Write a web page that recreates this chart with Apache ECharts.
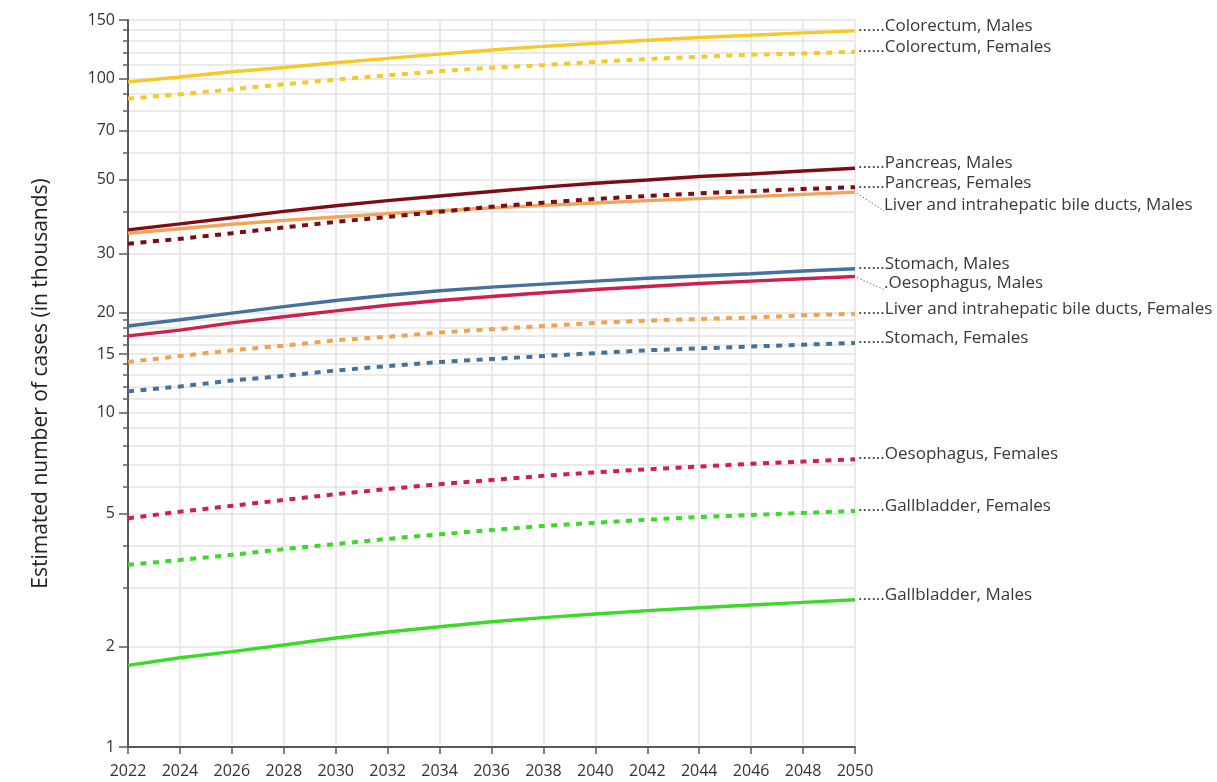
<!DOCTYPE html>
<html>
<head>
<meta charset="utf-8">
<script src="https://cdn.jsdelivr.net/npm/echarts@6/dist/echarts.min.js"></script>
<style>
html,body{margin:0;padding:0;background:#fff;}
#chart{width:1217px;height:782px;}
</style>
</head>
<body>
<div id="chart"></div>
<script>
// ---- data ----
const years = [2022, 2024, 2026, 2028, 2030, 2032, 2034, 2036, 2038, 2040, 2042, 2044, 2046, 2048, 2050];

const colorectumMales      = [97.9, 101.3, 105.0, 108.1, 111.7, 115.1, 118.6, 122.0, 125.1, 127.8, 130.4, 132.9, 135.0, 137.3, 139.2];
const colorectumFemales    = [87.2, 89.9, 93.0, 96.3, 99.4, 102.5, 105.4, 107.9, 109.9, 112.4, 114.6, 116.4, 118.1, 119.1, 120.5];
const pancreasMales        = [35.3, 36.8, 38.4, 40.1, 41.7, 43.2, 44.6, 46.0, 47.4, 48.7, 49.8, 51.0, 51.9, 53.0, 54.0];
const pancreasFemales      = [32.1, 33.2, 34.5, 35.9, 37.3, 38.6, 40.0, 41.4, 42.6, 43.7, 44.6, 45.4, 46.1, 46.8, 47.4];
const liverMales           = [34.5, 35.6, 36.7, 37.7, 38.6, 39.5, 40.3, 41.1, 41.8, 42.5, 43.2, 43.8, 44.4, 45.1, 45.8];
const stomachMales         = [18.2, 19.0, 19.9, 20.8, 21.7, 22.5, 23.2, 23.8, 24.3, 24.8, 25.3, 25.7, 26.1, 26.6, 27.0];
const oesophagusMales      = [17.0, 17.7, 18.6, 19.4, 20.2, 21.0, 21.7, 22.3, 22.9, 23.4, 23.9, 24.4, 24.8, 25.2, 25.6];
const liverFemales         = [14.2, 14.8, 15.4, 15.9, 16.5, 16.9, 17.4, 17.8, 18.2, 18.6, 18.9, 19.1, 19.3, 19.6, 19.8];
const stomachFemales       = [11.6, 12.0, 12.5, 12.9, 13.4, 13.8, 14.2, 14.5, 14.8, 15.1, 15.4, 15.6, 15.8, 16.0, 16.2];
const oesophagusFemales    = [4.84, 5.06, 5.27, 5.49, 5.71, 5.92, 6.12, 6.30, 6.48, 6.64, 6.78, 6.91, 7.04, 7.15, 7.27];
const gallbladderFemales   = [3.51, 3.63, 3.76, 3.91, 4.05, 4.20, 4.33, 4.46, 4.59, 4.69, 4.79, 4.88, 4.95, 5.02, 5.09];
const gallbladderMales     = [1.755, 1.85, 1.93, 2.02, 2.12, 2.21, 2.29, 2.37, 2.44, 2.50, 2.56, 2.61, 2.66, 2.71, 2.76];

const yLabelValues = [1, 2, 5, 10, 15, 20, 30, 50, 70, 100, 150];
const yGridValues  = [1, 2, 3, 4, 5, 6, 7, 8, 9, 10, 11, 12, 13, 14, 15, 16, 17, 18, 19, 20, 30, 40, 50, 60, 70, 80, 90, 100, 110, 120, 130, 140, 150];
const yAxisTitle = 'Estimated number of cases (in thousands)';

// ---- series definitions ----
const seriesDefs = [
  { name: 'Gallbladder, Males',   data: gallbladderMales,   color: '#3ada26', dashed: false, dy: -5 },
  { name: 'Gallbladder, Females', data: gallbladderFemales, color: '#3ada26', dashed: true,  dy: -5 },
  { name: 'Oesophagus, Females',  data: oesophagusFemales,  color: '#cf1f4c', dashed: true,  dy: -5 },
  { name: 'Stomach, Females',     data: stomachFemales,     color: '#44729f', dashed: true,  dy: -5 },
  { name: 'Liver and intrahepatic bile ducts, Females', data: liverFemales, color: '#f0a24e', dashed: true, dy: -5 },
  { name: 'Oesophagus, Males',    data: oesophagusMales,    color: '#cf1f4c', dashed: false, dy: 7,  diag: true },
  { name: 'Stomach, Males',       data: stomachMales,       color: '#44729f', dashed: false, dy: -5 },
  { name: 'Liver and intrahepatic bile ducts, Males', data: liverMales, color: '#f2a45a', dashed: false, dy: 13, diag: true },
  { name: 'Pancreas, Females',    data: pancreasFemales,    color: '#7d0d14', dashed: true,  dy: -4 },
  { name: 'Pancreas, Males',      data: pancreasMales,      color: '#7d0d14', dashed: false, dy: -5 },
  { name: 'Colorectum, Females',  data: colorectumFemales,  color: '#f4c928', dashed: true,  dy: -5 },
  { name: 'Colorectum, Males',    data: colorectumMales,    color: '#f4c928', dashed: false, dy: -5 }
];

const FONT = "'Open Sans', 'Noto Sans', sans-serif";
const chart = echarts.init(document.getElementById('chart'), null, { renderer: 'canvas' });

const series = seriesDefs.map(d => ({
  name: d.name,
  type: 'line',
  data: years.map((y, i) => [y, d.data[i]]),
  showSymbol: false,
  symbol: 'none',
  smooth: false,
  silent: true,
  lineStyle: {
    color: d.color,
    width: d.dashed ? 4 : 3.4,
    type: d.dashed ? [6, 6.5] : 'solid',
    cap: 'butt'
  },
  endLabel: {
    show: true,
    distance: 3,
    offset: d.diag ? [26, d.dy] : [0, d.dy],
    fontFamily: FONT,
    fontSize: 17,
    color: '#383838',
    formatter: d.diag ? (d.name.startsWith('Oes') ? '.' + d.name : d.name) : '......' + d.name
  }
}));

const option = {
  animation: false,
  backgroundColor: '#ffffff',
  grid: { left: 128, right: 362, top: 20, bottom: 35, containLabel: false },
  xAxis: {
    type: 'value',
    min: 2022, max: 2050, interval: 2,
    axisLine: { show: true, lineStyle: { color: '#595959', width: 2 } },
    axisTick: { show: true, length: 7, lineStyle: { color: '#595959', width: 1.5 } },
    axisLabel: { fontFamily: FONT, fontSize: 16, color: '#333', margin: 16, formatter: v => String(v) },
    splitLine: { show: true, lineStyle: { color: '#e3e3e3', width: 1.5 } }
  },
  yAxis: [
    {
      type: 'log', logBase: 10, min: 1, max: 150,
      position: 'left',
      name: yAxisTitle,
      nameLocation: 'middle',
      nameRotate: 90,
      nameGap: 76,
      nameTextStyle: { fontFamily: FONT, fontSize: 21, color: '#222' },
      axisLine: { show: true, lineStyle: { color: '#595959', width: 2 } },
      axisTick: { show: true, length: 9, customValues: yLabelValues, lineStyle: { color: '#595959', width: 1.5 } },
      axisLabel: { show: true, customValues: yLabelValues, fontFamily: FONT, fontSize: 16, color: '#333', margin: 13, formatter: v => String(Math.round(v)) },
      splitLine: { show: false }
    },
    {
      type: 'log', logBase: 10, min: 1, max: 150,
      position: 'left',
      offset: 0,
      axisLine: { show: false },
      axisTick: { show: true, length: 5, customValues: yGridValues, lineStyle: { color: '#595959', width: 1.5 } },
      axisLabel: { show: false, customValues: yGridValues },
      splitLine: { show: true, lineStyle: { color: '#e3e3e3', width: 1.5 } }
    }
  ],
  series: series
};
chart.setOption(option);

// diagonal leader lines for labels offset downwards
const graphics = [];
seriesDefs.forEach(d => {
  if (!d.diag) return;
  const last = d.data[d.data.length - 1];
  const p = chart.convertToPixel({ xAxisIndex: 0, yAxisIndex: 0 }, [years[years.length - 1], last]);
  graphics.push({
    type: 'line',
    silent: true,
    shape: { x1: p[0] + 2, y1: p[1] + 1, x2: p[0] + 29, y2: p[1] + d.dy + 6 },
    style: { stroke: '#7a7a7a', lineWidth: 1, lineDash: [1.5, 2] }
  });
});
chart.setOption({ graphic: graphics });
</script>
</body>
</html>
